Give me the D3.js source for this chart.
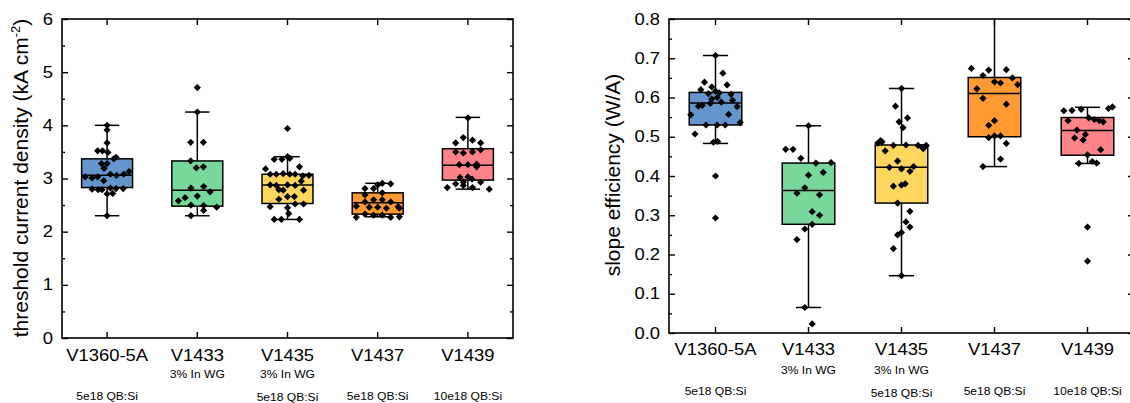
<!DOCTYPE html>
<html><head><meta charset="utf-8">
<script src="https://cdn.jsdelivr.net/npm/d3@7/dist/d3.min.js"></script>
<style>
body{margin:0;background:#fff}
svg{display:block}
text{font-family:Arial,"Liberation Sans",sans-serif;fill:#000}
</style>
</head><body>
<svg id="c" width="1130" height="403"></svg>
<script>
// ---------- data ----------
const categories = ["V1360-5A", "V1433", "V1435", "V1437", "V1439"];
const subLabelWG = ["", "3% In WG", "3% In WG", "", ""];
const subLabelQB = ["5e18 QB:Si", "", "5e18 QB:Si", "5e18 QB:Si", "10e18 QB:Si"];

const thrTicks = [0, 1, 2, 3, 4, 5, 6];
const thrMinorTicks = [0.5, 1.5, 2.5, 3.5, 4.5, 5.5];
const slopeTicks = [0, 0.1, 0.2, 0.3, 0.4, 0.5, 0.6, 0.7, 0.8];
const slopeTickLabels = ["0.0", "0.1", "0.2", "0.3", "0.4", "0.5", "0.6", "0.7", "0.8"];
const slopeMinorTicks = [0.05, 0.15, 0.25, 0.35, 0.45, 0.55, 0.65, 0.75];

// threshold current density (kA cm^-2)
const thrWhiskerLow  = [2.30, 2.30, 2.23, 2.28, 2.80];
const thrQ1          = [2.83, 2.48, 2.53, 2.33, 2.97];
const thrMedian      = [3.06, 2.78, 2.88, 2.545, 3.25];
const thrQ3          = [3.37, 3.33, 3.08, 2.73, 3.56];
const thrWhiskerHigh = [4.00, 4.25, 3.41, 2.91, 4.15];
// [value, jitter as a fraction of half box width]
const thrPoints = [
  [[4.00,0],[3.91,0],[3.67,0],[3.52,-0.37],[3.52,-0.18],[3.49,0.03],[3.40,0.35],[3.37,0.26],[3.28,-0.22],[3.28,0],[3.19,-0.12],[3.13,0.86],[3.08,0.65],[3.08,0.13],[3.06,0.37],[3.03,-0.86],[3.01,-0.59],[3.03,-0.37],[2.96,-0.13],[2.80,-0.59],[2.79,-0.35],[2.79,-0.2],[2.82,0.13],[2.81,0.35],[2.81,0.63],[2.71,0],[2.72,0.22],[2.30,0]],
  [[4.71,0],[4.25,0],[3.68,-0.26],[3.68,0.24],[3.33,-0.26],[3.20,-0.04],[3.22,0.24],[2.85,0.25],[2.82,-0.25],[2.75,0.5],[2.67,0],[2.64,-0.48],[2.58,-0.74],[2.50,-0.25],[2.49,0.25],[2.46,0.76],[2.40,0.25],[2.30,-0.25]],
  [[3.94,0],[3.41,0],[3.38,0.09],[3.36,-0.52],[3.36,-0.22],[3.22,0.47],[3.18,-0.86],[3.08,-0.68],[3.08,-0.44],[3.09,-0.17],[3.08,0.09],[3.08,0.30],[3.05,0.6],[3.06,0.84],[2.95,0.54],[2.88,-0.68],[2.87,-0.44],[2.88,0],[2.87,0.30],[2.79,-0.34],[2.78,-0.17],[2.78,0.63],[2.66,0],[2.66,0.27],[2.61,-0.34],[2.52,0.30],[2.52,0.63],[2.47,-0.68],[2.45,0],[2.34,0.05],[2.23,-0.52],[2.23,-0.24],[2.23,0.47]],
  [[2.91,0.18],[2.90,0.51],[2.88,0],[2.81,-0.5],[2.81,-0.16],[2.73,0.18],[2.69,-0.5],[2.60,-0.16],[2.60,0.18],[2.56,-0.5],[2.56,0.51],[2.48,-0.84],[2.47,0.8],[2.46,-0.33],[2.46,0],[2.44,0.34],[2.44,0.85],[2.33,-0.5],[2.31,-0.16],[2.31,0.18],[2.27,-0.84],[2.27,0.51],[2.28,0.85]],
  [[4.14,0],[3.77,-0.18],[3.72,0.18],[3.67,-0.48],[3.67,0.5],[3.50,-0.48],[3.48,-0.18],[3.50,0.18],[3.54,0.5],[3.26,-0.34],[3.26,0],[3.27,0.34],[3.22,0.34],[3.02,-0.31],[3.03,0],[2.99,0.16],[2.93,-0.18],[2.93,0.5],[2.90,-0.48],[2.87,-0.18],[2.83,-0.81],[2.83,0.18],[2.80,0.84]]
];

// slope efficiency (W/A)
const slopeWhiskerLow  = [0.483, 0.065, 0.146, 0.424, 0.432];
const slopeQ1          = [0.530, 0.277, 0.331, 0.500, 0.453];
const slopeMedian      = [0.586, 0.363, 0.422, 0.610, 0.516];
const slopeQ3          = [0.613, 0.433, 0.479, 0.651, 0.549];
const slopeWhiskerHigh = [0.707, 0.528, 0.623, 0.850, 0.575];
const slopePoints = [
  [[0.707,0],[0.662,0.28],[0.639,-0.42],[0.632,0.44],[0.627,-0.14],[0.620,-0.56],[0.616,0.0],[0.612,0.14],[0.610,-0.27],[0.608,0.59],[0.600,0.07],[0.596,-0.14],[0.593,0.65],[0.588,0.22],[0.585,-0.2],[0.580,-0.5],[0.578,-0.65],[0.577,0.82],[0.556,-0.94],[0.557,0.5],[0.536,0.94],[0.530,-0.36],[0.530,0.06],[0.530,0.37],[0.507,-0.78],[0.486,-0.08],[0.488,0.08],[0.400,0],[0.293,0]],
  [[0.528,0],[0.468,-0.87],[0.468,-0.59],[0.445,-0.29],[0.433,0.28],[0.434,0.86],[0.409,0.56],[0.402,0],[0.370,-0.14],[0.356,-0.44],[0.352,0.42],[0.309,0.14],[0.300,0.42],[0.277,0.14],[0.265,-0.14],[0.238,-0.44],[0.065,-0.14],[0.023,0.14]],
  [[0.623,0],[0.578,-0.23],[0.548,0.23],[0.538,-0.09],[0.523,0.06],[0.490,-0.8],[0.487,-0.74],[0.484,-0.9],[0.479,0.17],[0.478,-0.31],[0.478,0.63],[0.473,0.78],[0.478,0.94],[0.470,0.83],[0.464,-0.62],[0.438,-0.15],[0.422,-0.46],[0.418,0],[0.424,0.46],[0.412,0.32],[0.374,-0.31],[0.377,0],[0.380,0.14],[0.331,-0.15],[0.310,0.32],[0.283,0.17],[0.270,0.32],[0.256,0],[0.250,-0.15],[0.215,-0.31],[0.146,0]],
  [[0.674,-0.88],[0.670,-0.22],[0.671,0.45],[0.656,-0.44],[0.650,0.68],[0.640,0],[0.637,0.23],[0.633,0.88],[0.622,-0.67],[0.598,-0.44],[0.583,0.45],[0.541,0],[0.529,-0.22],[0.498,-0.22],[0.502,0],[0.502,0.23],[0.483,0.45],[0.443,0.23],[0.424,-0.44]],
  [[0.576,0.95],[0.572,0.8],[0.566,-0.9],[0.567,-0.59],[0.570,-0.24],[0.548,0.05],[0.544,0.26],[0.541,-0.74],[0.541,0.45],[0.538,0.6],[0.517,-0.4],[0.506,-0.08],[0.497,-0.49],[0.492,-0.17],[0.467,0.5],[0.454,0],[0.437,0.18],[0.432,-0.33],[0.433,0.35],[0.270,0],[0.183,0]]
];

const boxColors = ["#6495CD", "#78D79B", "#FFD75F", "#FF9A33", "#FF8489"];

// ---------- drawing ----------
const svg = d3.select("#c");
const SX = 1.15; // horizontal stretch of the labels in the reference

function panel(o) {
  const x = d3.scaleBand().domain(categories).range([o.left, o.right]).padding(0);
  const y = d3.scaleLinear().domain(o.domain).range([o.bottom, o.top]);
  const cx = c => x(c) + x.bandwidth() / 2;
  const boxW = x.bandwidth() * 0.565, capW = boxW * 0.48;
  const rows = categories.map((c, i) => ({
    c, lo: o.lo[i], q1: o.q1[i], med: o.med[i], q3: o.q3[i], hi: o.hi[i],
    color: boxColors[i], pts: o.pts[i]
  }));

  svg.append("clipPath").attr("id", "clip" + o.id)
    .append("rect").attr("x", o.left).attr("y", o.top)
    .attr("width", o.right - o.left).attr("height", o.bottom - o.top);

  const g = svg.append("g");
  const marks = g.append("g").attr("clip-path", `url(#clip${o.id})`);

  const grp = marks.selectAll("g.box").data(rows).join("g").attr("class", "box");
  // whiskers
  grp.append("line").attr("x1", d => cx(d.c)).attr("x2", d => cx(d.c))
    .attr("y1", d => y(d.q3)).attr("y2", d => y(d.hi)).attr("stroke", "#000").attr("stroke-width", 1.5);
  grp.append("line").attr("x1", d => cx(d.c)).attr("x2", d => cx(d.c))
    .attr("y1", d => y(d.q1)).attr("y2", d => y(d.lo)).attr("stroke", "#000").attr("stroke-width", 1.5);
  grp.append("line").attr("x1", d => cx(d.c) - capW / 2).attr("x2", d => cx(d.c) + capW / 2)
    .attr("y1", d => y(d.hi)).attr("y2", d => y(d.hi)).attr("stroke", "#000").attr("stroke-width", 1.5);
  grp.append("line").attr("x1", d => cx(d.c) - capW / 2).attr("x2", d => cx(d.c) + capW / 2)
    .attr("y1", d => y(d.lo)).attr("y2", d => y(d.lo)).attr("stroke", "#000").attr("stroke-width", 1.5);
  // box
  grp.append("rect").attr("x", d => cx(d.c) - boxW / 2).attr("width", boxW)
    .attr("y", d => y(d.q3)).attr("height", d => y(d.q1) - y(d.q3))
    .attr("fill", d => d.color).attr("stroke", "#000").attr("stroke-width", 1.5);
  grp.append("line").attr("x1", d => cx(d.c) - boxW / 2).attr("x2", d => cx(d.c) + boxW / 2)
    .attr("y1", d => y(d.med)).attr("y2", d => y(d.med)).attr("stroke", "#000").attr("stroke-width", 1.5);
  // points
  const r = 3.6;
  const diamond = `M0,${-r}L${r},0L0,${r}L${-r},0Z`;
  grp.selectAll("path.pt").data(d => d.pts.map(p => ({ v: p[0], j: p[1], c: d.c })))
    .join("path").attr("class", "pt").attr("d", diamond)
    .attr("transform", p => `translate(${cx(p.c) + p.j * boxW / 2},${y(p.v)})`)
    .attr("fill", "#000");

  // axes
  const styleAxis = sel => {
    sel.select(".domain").remove();
    sel.selectAll(".tick line").attr("stroke", "#000").attr("stroke-width", 1.4);
    sel.attr("font-size", null).attr("font-family", null);
  };
  const leftAx = g.append("g").attr("transform", `translate(${o.left},0)`)
    .call(d3.axisLeft(y).tickValues(o.ticks).tickSize(-6).tickPadding(9).tickFormat((d, i) => o.tickLabels[i]))
    .call(styleAxis);
  leftAx.selectAll(".tick text").each(function () {
    const t = d3.select(this);
    const xx = +t.attr("x");
    t.attr("x", 0).attr("font-size", 16).attr("transform", `translate(${xx},0) scale(${SX},1)`);
  });
  g.append("g").attr("transform", `translate(${o.left},0)`)
    .call(d3.axisLeft(y).tickValues(o.minor).tickSize(-3).tickFormat("")).call(styleAxis);
  g.append("g").attr("transform", `translate(${o.right},0)`)
    .call(d3.axisRight(y).tickValues(o.ticks).tickSize(-6).tickFormat("")).call(styleAxis);
  g.append("g").attr("transform", `translate(${o.right},0)`)
    .call(d3.axisRight(y).tickValues(o.minor).tickSize(-3).tickFormat("")).call(styleAxis);
  g.append("g").attr("transform", `translate(0,${o.bottom})`)
    .call(d3.axisBottom(x).tickSize(-6).tickFormat("")).call(styleAxis);
  g.append("g").attr("transform", `translate(0,${o.top})`)
    .call(d3.axisTop(x).tickSize(-6).tickFormat("")).call(styleAxis);

  // frame
  g.append("rect").attr("x", o.left).attr("y", o.top)
    .attr("width", o.right - o.left).attr("height", o.bottom - o.top)
    .attr("fill", "none").attr("stroke", "#000").attr("stroke-width", 1.6);

  // category labels
  const lab = g.append("g").attr("text-anchor", "middle");
  lab.selectAll("text.cat").data(categories).join("text").attr("class", "cat")
    .attr("font-size", 16)
    .attr("transform", c => `translate(${cx(c)},${o.catY}) scale(${SX},1)`).text(c => c);
  lab.selectAll("text.wg").data(categories.map((c, i) => ({ c, t: subLabelWG[i] })).filter(d => d.t))
    .join("text").attr("class", "wg").attr("font-size", 10.5)
    .attr("transform", d => `translate(${cx(d.c)},${o.wgY}) scale(${SX},1)`).text(d => d.t);
  lab.selectAll("text.qb").data(categories.map((c, i) => ({ c, i, t: subLabelQB[i] })).filter(d => d.t))
    .join("text").attr("class", "qb").attr("font-size", 10.5)
    .attr("transform", d => `translate(${cx(d.c)},${d.i === 2 ? o.qbY2 : o.qbY}) scale(${SX},1)`).text(d => d.t);

  // y title
  const tt = g.append("text").attr("text-anchor", "middle").attr("font-size", 21)
    .attr("transform", `translate(${o.titleX},${o.titleY}) rotate(-90)`);
  o.title(tt);
}

panel({
  id: "thr", left: 62, right: 513, top: 19, bottom: 338, domain: [0, 6],
  ticks: thrTicks, tickLabels: thrTicks.map(String), minor: thrMinorTicks,
  lo: thrWhiskerLow, q1: thrQ1, med: thrMedian, q3: thrQ3, hi: thrWhiskerHigh, pts: thrPoints,
  catY: 361, wgY: 377.5, qbY: 400, qbY2: 400.5,
  titleX: 28, titleY: 178,
  title: t => {
    t.append("tspan").text("threshold current density (kA cm");
    t.append("tspan").attr("font-size", 13).attr("dy", -8).text("-2");
    t.append("tspan").attr("dy", 8).text(")");
  }
});

panel({
  id: "slope", left: 669, right: 1134, top: 19, bottom: 333, domain: [0, 0.8],
  ticks: slopeTicks, tickLabels: slopeTickLabels, minor: slopeMinorTicks,
  lo: slopeWhiskerLow, q1: slopeQ1, med: slopeMedian, q3: slopeQ3, hi: slopeWhiskerHigh, pts: slopePoints,
  catY: 354.5, wgY: 373.5, qbY: 395, qbY2: 397,
  titleX: 620, titleY: 175,
  title: t => { t.text("slope efficiency (W/A)"); }
});
</script>
</body></html>
